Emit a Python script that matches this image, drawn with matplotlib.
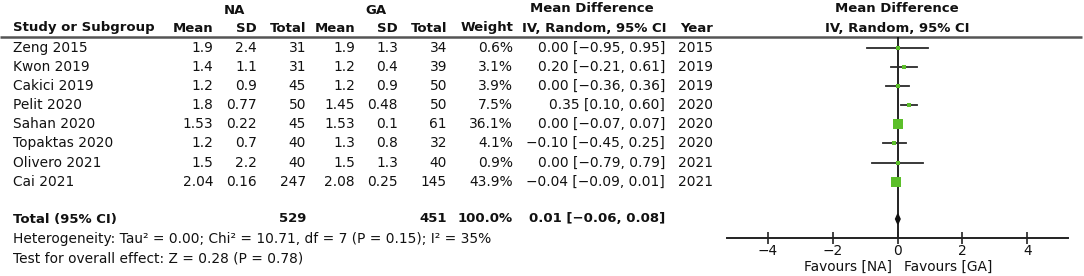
import matplotlib
matplotlib.use("Agg")
import matplotlib.pyplot as plt
import numpy as np

studies = ["Zeng 2015", "Kwon 2019", "Cakici 2019", "Pelit 2020", "Sahan 2020",
           "Topaktas 2020", "Olivero 2021", "Cai 2021"]
na_mean = ["1.9", "1.4", "1.2", "1.8", "1.53", "1.2", "1.5", "2.04"]
na_sd = ["2.4", "1.1", "0.9", "0.77", "0.22", "0.7", "2.2", "0.16"]
na_total = [31, 31, 45, 50, 45, 40, 40, 247]
ga_mean = ["1.9", "1.2", "1.2", "1.45", "1.53", "1.3", "1.5", "2.08"]
ga_sd = ["1.3", "0.4", "0.9", "0.48", "0.1", "0.8", "1.3", "0.25"]
ga_total = [34, 39, 50, 50, 61, 32, 40, 145]
weight = [0.6, 3.1, 3.9, 7.5, 36.1, 4.1, 0.9, 43.9]
md = [0.00, 0.20, 0.00, 0.35, 0.00, -0.10, 0.00, -0.04]
ci_low = [-0.95, -0.21, -0.36, 0.10, -0.07, -0.45, -0.79, -0.09]
ci_high = [0.95, 0.61, 0.36, 0.60, 0.07, 0.25, 0.79, 0.01]
years = [2015, 2019, 2019, 2020, 2020, 2020, 2021, 2021]
total_na, total_ga = 529, 451
total_weight = 100.0
total_md, total_low, total_high = 0.01, -0.06, 0.08
xticks = [-4, -2, 0, 2, 4]

W, H = 1084, 276
fig = plt.figure(figsize=(W / 100, H / 100), dpi=100)
tab = fig.add_axes([0, 0, 1, 1])
tab.set_xlim(0, W)
tab.set_ylim(H, 0)
tab.axis("off")

FS = 9.9
FSB = 9.5
TC = "#111111"
GREEN = "#5cbf2a"

def fmt(v):
    s = f"{v:.2f}"
    return s.replace("-", "\u2212")

def t(x, y, s, ha="left", bold=False):
    tab.text(x, y, s, ha=ha, va="center", fontsize=FSB if bold else FS, color=TC,
             fontweight="bold" if bold else "normal")

# headers
t(234, 10, "NA", "center", True)
t(376, 10, "GA", "center", True)
t(592, 9, "Mean Difference", "center", True)
t(897, 9, "Mean Difference", "center", True)
row2 = 28
t(13, row2, "Study or Subgroup", "left", True)
for x, s in [(213, "Mean"), (257, "SD"), (306, "Total"), (355, "Mean"),
             (398, "SD"), (447, "Total"), (513, "Weight")]:
    t(x, row2, s, "right", True)
t(594, row2, "IV, Random, 95% CI", "center", True)
t(713, row2, "Year", "right", True)
t(897, row2, "IV, Random, 95% CI", "center", True)
tab.plot([0, 1082], [37, 37], color="#555555", lw=1.8, solid_capstyle="butt")

row_y = [48, 67, 86, 105, 124, 143, 163, 182]
for i, y in enumerate(row_y):
    t(13, y, studies[i])
    t(213, y, na_mean[i], "right")
    t(257, y, na_sd[i], "right")
    t(306, y, str(na_total[i]), "right")
    t(355, y, ga_mean[i], "right")
    t(398, y, ga_sd[i], "right")
    t(447, y, str(ga_total[i]), "right")
    t(513, y, f"{weight[i]:.1f}%", "right")
    t(665, y, f"{fmt(md[i])} [{fmt(ci_low[i])}, {fmt(ci_high[i])}]", "right")
    t(713, y, str(years[i]), "right")

ty = 219
t(13, ty, "Total (95% CI)", "left", True)
t(306, ty, str(total_na), "right", True)
t(447, ty, str(total_ga), "right", True)
t(513, ty, f"{total_weight:.1f}%", "right", True)
t(665, ty, f"{fmt(total_md)} [{fmt(total_low)}, {fmt(total_high)}]", "right", True)
t(13, 239, "Heterogeneity: Tau\u00b2 = 0.00; Chi\u00b2 = 10.71, df = 7 (P = 0.15); I\u00b2 = 35%")
t(13, 258, "Test for overall effect: Z = 0.28 (P = 0.78)")
t(892, 267, "Favours [NA]", "right")
t(904, 267, "Favours [GA]", "left")

# forest axes
x0, x1, ytop, ybot = 727, 1068, 37, 238
ax = fig.add_axes([x0 / W, (H - ybot) / H, (x1 - x0) / W, (ybot - ytop) / H])
ax.set_xlim(-5.25, 5.25)
ax.set_ylim(ybot, ytop)
ax.patch.set_alpha(0)
for s in ["top", "left", "right"]:
    ax.spines[s].set_visible(False)
ax.spines["bottom"].set_color("#222222")
ax.spines["bottom"].set_linewidth(1.4)
ax.set_yticks([])
ax.set_xticks(xticks)
ax.set_xticklabels([str(v).replace("-", "\u2212") for v in xticks])
ax.tick_params(axis="x", direction="inout", length=8, width=1.2, color="#222222",
               labelsize=FS, labelcolor=TC, pad=0)
ax.axvline(0, color="#111111", lw=1.3, zorder=1)
for i, y in enumerate(row_y):
    ax.plot([ci_low[i], ci_high[i]], [y, y], color="#2a2a2a", lw=1.3, zorder=2)
    side_px = max(3.2, 1.65 * np.sqrt(weight[i]))
    ax.plot(md[i], y, marker="s", markersize=side_px * 0.72, color=GREEN,
            markeredgewidth=0, zorder=3)
# diamond
ax.fill([total_low, total_md, total_high, total_md], [ty, ty - 5, ty, ty + 5],
        color="#111111", zorder=4)

fig.savefig("out.png", dpi=100)
